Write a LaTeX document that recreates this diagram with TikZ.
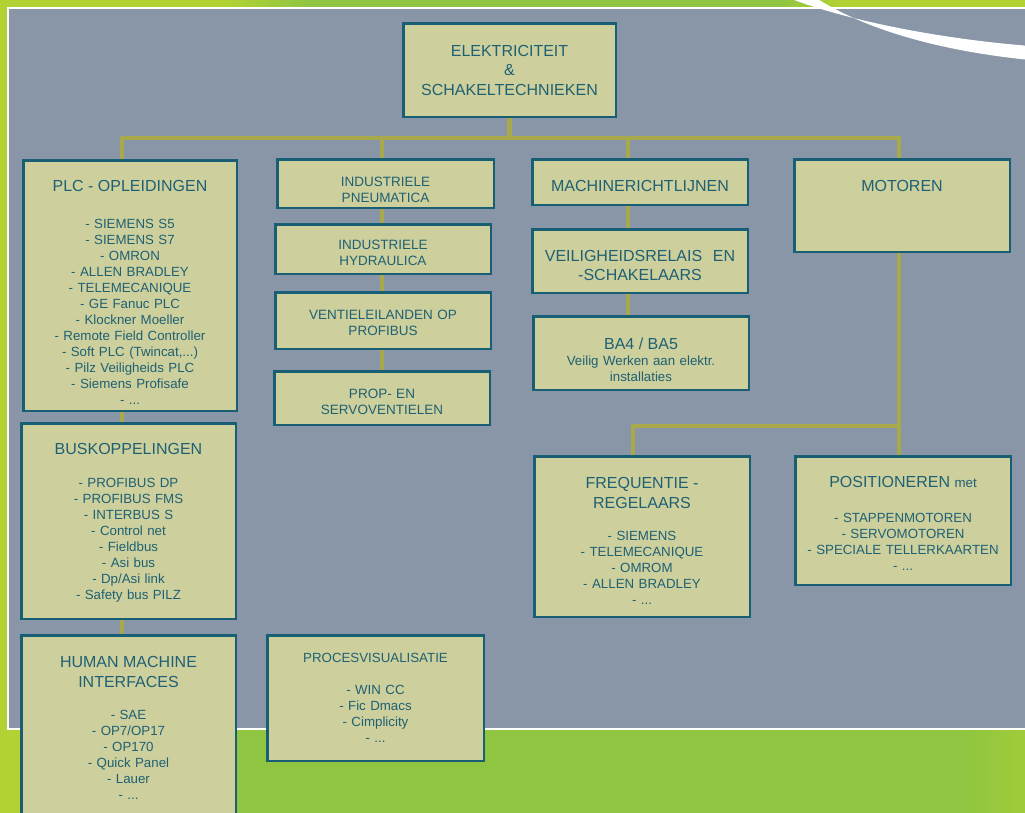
\documentclass[tikz,border=0pt]{standalone}
\usepackage{fontspec}
\setmainfont{Liberation Sans}

\definecolor{greenlime}{RGB}{178,210,52}
\definecolor{greenleaf}{RGB}{143,197,64}
\definecolor{greenpale}{RGB}{160,204,58}
\definecolor{panelgrey}{RGB}{136,150,168}
\definecolor{boxfill}{RGB}{205,208,156}
\definecolor{boxline}{RGB}{24,94,116}
\definecolor{boxink}{RGB}{31,96,116}
\definecolor{linkolive}{RGB}{167,169,74}

\pgfdeclarehorizontalshading{groundshade}{100bp}{color(0bp)=(greenlime); color(29.5bp)=(greenlime); color(32bp)=(greenleaf); color(72bp)=(greenleaf); color(75bp)=(greenpale); color(100bp)=(greenpale)}
\pgfdeclarehorizontalshading{stripshade}{100bp}{color(0bp)=(greenlime); color(36bp)=(greenlime); color(40bp)=(greenleaf); color(63bp)=(greenleaf); color(66bp)=(greenlime); color(100bp)=(greenlime)}

\newcommand\headfont{\fontsize{16}{19}\selectfont}

\tikzset{
  box/.style={draw=boxline, line width=2.5pt, fill=boxfill, text=boxink,
    anchor=north west, align=center, inner xsep=2pt, inner ysep=0pt,
    font=\fontsize{13.3}{16}\selectfont},
  narrow/.style={font=\fontsize{13.5}{15.7}\selectfont},
  head/.style={font=\headfont},
  link/.style={draw=linkolive, line width=4.5pt},
}

\begin{document}
\begin{tikzpicture}[x=1pt, y=-1pt]
	\clip (0,0) rectangle (1025,812);

	% background
	\shade[shading=groundshade] (0,0) rectangle (1025,812);
	\shade[shading=stripshade] (0,0) rectangle (1025,9);
	\draw[draw=white, line width=2pt, fill=panelgrey] (8,8) rectangle (1040,729);
	\fill[white] (789,-2) .. controls (840,18) and (930,38) .. (1030,46)
		-- (1030,60) .. controls (930,50) and (860,26) .. (816,-2) -- cycle;

	% column lines
	\coordinate (rail) at (0,138);
	\coordinate (split) at (0,426);
	\coordinate (c1) at (122,0);
	\coordinate (c2) at (382,0);
	\coordinate (c3) at (628,0);
	\coordinate (c4) at (899,0);
	\coordinate (c5) at (633,0);

	\node[box, head, font=\fontsize{16}{19.5}\selectfont, text width=208.5pt, minimum height=93.5pt] (elek) at (402,22)
		{ELEKTRICITEIT\\ \&\\ SCHAKELTECHNIEKEN};

	% first column
	\node[box, text width=209.5pt, minimum height=250.5pt] (plc) at (22,159)
		{{\headfont\rule{0pt}{25.5pt}PLC - OPLEIDINGEN}\\[21pt]
		- SIEMENS S5\\ - SIEMENS S7\\ - OMRON\\ - ALLEN BRADLEY\\
		- TELEMECANIQUE\\ - GE Fanuc PLC\\ - Klockner Moeller\\
		- Remote Field Controller\\ - Soft PLC (Twincat,...)\\
		- Pilz Veiligheids PLC\\ - Siemens Profisafe\\ - ...};
	\node[box, text width=210.5pt, minimum height=195.5pt] (koppel) at (20,422)
		{{\headfont\rule{0pt}{14.5pt}BUSKOPPELINGEN}\\[17.5pt]
		- PROFIBUS DP\\ - PROFIBUS FMS\\ - INTERBUS S\\ - Control net\\
		- Fieldbus\\ - Asi bus\\ - Dp/Asi link\\ - Safety bus PILZ};
	\node[box, text width=210.5pt, minimum height=185.5pt] (hmi) at (20,634)
		{{\headfont HUMAN MACHINE\\[4pt] INTERFACES}\\[16.4pt]
		- SAE\\ - OP7/OP17\\ - OP170\\ - Quick Panel\\ - Lauer\\ - ...};

	% second column
	\node[box, narrow, text width=212.5pt, minimum height=48.5pt] (pneu) at (276,158)
		{\rule{0pt}{21.7pt}INDUSTRIELE\\ PNEUMATICA};
	\node[box, narrow, text width=211.5pt, minimum height=49.5pt] (hydr) at (274,223)
		{\rule{0pt}{17.7pt}INDUSTRIELE\\ HYDRAULICA};
	\node[box, narrow, text width=211.5pt, minimum height=56.5pt] (vent) at (274,291)
		{\rule{0pt}{13.7pt}VENTIELEILANDEN OP\\ PROFIBUS};
	\node[box, narrow, text width=211.5pt, minimum height=53.5pt] (prop) at (273,370)
		{\rule{0pt}{17.1pt}PROP- EN\\ SERVOVENTIELEN};
	\node[box, text width=212.5pt, minimum height=125.5pt] (proc) at (266,634)
		{PROCESVISUALISATIE\\[16.4pt]
		- WIN CC\\ - Fic Dmacs\\ - Cimplicity\\ - ...};

	% third column
	\node[box, head, text width=211.5pt, minimum height=45.5pt] (mach) at (531,158)
		{\rule{0pt}{18.5pt}MACHINERICHTLIJNEN};
	\node[box, head, text width=211.5pt, minimum height=63.5pt] (veil) at (531,228)
		{\rule{0pt}{19.5pt}VEILIGHEIDSRELAIS\ \ EN\\ -SCHAKELAARS};
	\node[box, text width=211.5pt, minimum height=73.5pt] (ba) at (532,315)
		{{\headfont\rule{0pt}{25.5pt}BA4 / BA5}\\ Veilig Werken aan elektr.\\ installaties};

	% fourth column
	\node[box, head, text width=211.5pt, minimum height=92.5pt] (mot) at (793,158)
		{MOTOREN\rule[-40pt]{0pt}{40pt}};
	\node[box, text width=211.5pt, minimum height=160.5pt] (freq) at (533,455)
		{{\headfont\rule{0pt}{20.5pt}FREQUENTIE -\\[4pt] REGELAARS}\\[16.4pt]
		- SIEMENS\\ - TELEMECANIQUE\\ - OMROM\\ - ALLEN BRADLEY\\ - ...};
	\node[box, text width=211.5pt, minimum height=128.5pt] (pos) at (794,455)
		{{\headfont\rule{0pt}{17.1pt}POSITIONEREN} met\\[18.3pt]
		- STAPPENMOTOREN\\ - SERVOMOTOREN\\ - SPECIALE TELLERKAARTEN\\ - ...};

	% connectors
	\draw[link] (elek.south) -- (elek.south |- rail);
	\draw[link] (plc.north -| c1) -- (rail -| c1) -- (rail -| c4) -- (mot.north -| c4);
	\draw[link] (pneu.north -| c2) -- (rail -| c2);
	\draw[link] (mach.north -| c3) -- (rail -| c3);

	\draw[link] (plc.south -| c1) -- (koppel.north -| c1);
	\draw[link] (koppel.south -| c1) -- (hmi.north -| c1);

	\draw[link] (pneu.south -| c2) -- (hydr.north -| c2);
	\draw[link] (hydr.south -| c2) -- (vent.north -| c2);
	\draw[link] (vent.south -| c2) -- (prop.north -| c2);

	\draw[link] (mach.south -| c3) -- (veil.north -| c3);
	\draw[link] (veil.south -| c3) -- (ba.north -| c3);

	\draw[link] (mot.south -| c4) -- (pos.north -| c4);
	\draw[link] (freq.north -| c5) -- (split -| c5) -- (split -| c4);
\end{tikzpicture}
\end{document}
